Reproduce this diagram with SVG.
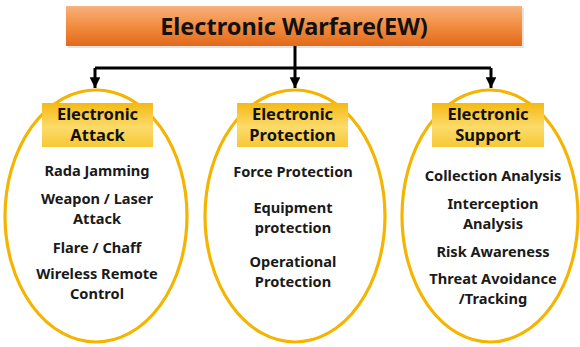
<svg xmlns="http://www.w3.org/2000/svg" width="580" height="347" viewBox="0 0 580 347">
<defs>
<linearGradient id="gTitle" x1="0" y1="0" x2="0" y2="1">
<stop offset="0" stop-color="#F7B27C"/>
<stop offset="0.5" stop-color="#F28C40"/>
<stop offset="1" stop-color="#E2691A"/>
</linearGradient>
<linearGradient id="gBox" x1="0" y1="0" x2="0" y2="1">
<stop offset="0" stop-color="#F5B914"/>
<stop offset="0.55" stop-color="#FCDB6A"/>
<stop offset="1" stop-color="#F8C834"/>
</linearGradient>
<marker id="arr" viewBox="0 0 10 10" refX="10" refY="5" markerWidth="3.6" markerHeight="3.6" orient="auto" markerUnits="strokeWidth">
<path d="M0,0 L10,5 L0,10 z" fill="#000"/>
</marker>
</defs>
<style>
.ell{fill:#fff;stroke:#F5B400;stroke-width:3.2}
.box{fill:url(#gBox)}
.hd{font-family:"Noto Sans","Liberation Sans",sans-serif;font-weight:bold;font-size:16.5px;fill:#111;text-anchor:middle}
.it{font-family:"Noto Sans","Liberation Sans",sans-serif;font-weight:bold;font-size:14.6px;fill:#1a1a1a;text-anchor:middle}
.title{font-family:"Noto Sans","Liberation Sans",sans-serif;font-weight:bold;font-size:23.5px;fill:#111;text-anchor:middle}
.con{fill:none;stroke:#000;stroke-width:3}
</style>
<rect width="580" height="347" fill="#fff"/>
<g id="title">
<rect x="68" y="8" width="456" height="40" fill="#C8C8C8" opacity="0.5"/>
<rect x="66" y="6" width="456" height="40" fill="url(#gTitle)"/>
<text class="title" x="294" y="35">Electronic Warfare(EW)</text>
</g>
<g id="connectors">
<path class="con" d="M295,46 V68"/>
<path class="con" d="M95,68 H491"/>
<path class="con" d="M95,68 V88" marker-end="url(#arr)"/>
<path class="con" d="M295,68 V88" marker-end="url(#arr)"/>
<path class="con" d="M491,68 V88" marker-end="url(#arr)"/>
</g>
<g id="attack">
<ellipse class="ell" cx="96" cy="216" rx="91" ry="126"/>
<rect class="box" x="42" y="103" width="111" height="44"/>
<text class="hd" x="97.5" y="120">Electronic</text>
<text class="hd" x="97.5" y="141">Attack</text>
<text class="it" x="97" y="176">Rada Jamming</text>
<text class="it" x="97" y="204">Weapon / Laser</text>
<text class="it" x="97" y="224">Attack</text>
<text class="it" x="97" y="253">Flare / Chaff</text>
<text class="it" x="97" y="279">Wireless Remote</text>
<text class="it" x="97" y="299">Control</text>
</g>
<g id="protection">
<ellipse class="ell" cx="295" cy="216" rx="90" ry="126"/>
<rect class="box" x="237" y="103" width="111" height="44"/>
<text class="hd" x="292.5" y="120">Electronic</text>
<text class="hd" x="292.5" y="141">Protection</text>
<text class="it" x="293" y="177">Force Protection</text>
<text class="it" x="293" y="213">Equipment</text>
<text class="it" x="293" y="233">protection</text>
<text class="it" x="293" y="267">Operational</text>
<text class="it" x="293" y="287">Protection</text>
</g>
<g id="support">
<ellipse class="ell" cx="490" cy="216" rx="88" ry="126"/>
<rect class="box" x="432" y="103" width="112" height="44"/>
<text class="hd" x="488" y="120">Electronic</text>
<text class="hd" x="488" y="141">Support</text>
<text class="it" x="493" y="181">Collection Analysis</text>
<text class="it" x="493" y="209">Interception</text>
<text class="it" x="493" y="229">Analysis</text>
<text class="it" x="493" y="257">Risk Awareness</text>
<text class="it" x="493" y="284">Threat Avoidance</text>
<text class="it" x="493" y="304">/Tracking</text>
</g>
</svg>
